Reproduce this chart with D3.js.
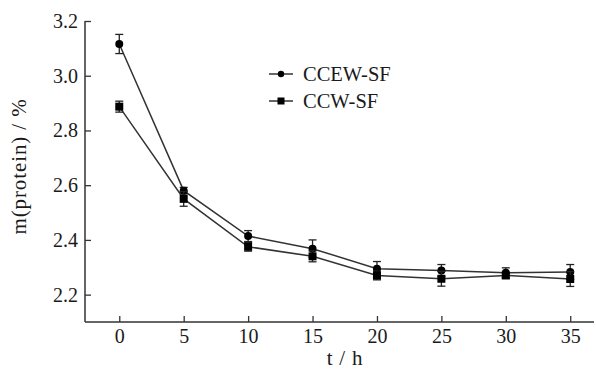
<!DOCTYPE html>
<html><head><meta charset="utf-8">
<script src="https://cdn.jsdelivr.net/npm/d3@7"></script>
<style>body{margin:0;background:#fff}svg{display:block}</style>
</head><body>
<script>
const times = [0, 5, 10, 15, 20, 25, 30, 35];
const ccewMean = [3.116, 2.580, 2.414, 2.368, 2.295, 2.288, 2.280, 2.283];
const ccewErr  = [0.035, 0.012, 0.020, 0.032, 0.026, 0.022, 0.018, 0.027];
const ccwMean  = [2.887, 2.550, 2.375, 2.340, 2.270, 2.258, 2.270, 2.257];
const ccwErr   = [0.020, 0.027, 0.016, 0.020, 0.016, 0.027, 0.010, 0.027];
const xTicks = [0, 5, 10, 15, 20, 25, 30, 35];
const yTicks = [2.2, 2.4, 2.6, 2.8, 3.0, 3.2];
const seriesNames = ["CCEW-SF", "CCW-SF"];

const W = 596, H = 370;
const svg = d3.select("body").append("svg").attr("width", W).attr("height", H);
const x = d3.scaleLinear().domain([-2.66, 37]).range([85, 596]);
const y = d3.scaleLinear().domain([2.1, 3.2]).range([322, 21]);
const font = "'Liberation Serif','Times New Roman',Times,serif";
const fs = 20;
const ink = "#1a1a1a";

// axes
const gx = svg.append("g").attr("transform", "translate(0,322)")
  .call(d3.axisBottom(x).tickValues(xTicks).tickSize(-6).tickPadding(7).tickFormat(d3.format("d")));
const gy = svg.append("g").attr("transform", "translate(85,0)")
  .call(d3.axisLeft(y).tickValues(yTicks).tickSize(-6).tickPadding(7).tickFormat(d3.format(".1f")));
[gx, gy].forEach(g => {
  g.select(".domain").attr("stroke", "#333").attr("stroke-width", 1.5);
  g.selectAll(".tick line").attr("stroke", "#333").attr("stroke-width", 1.3);
  g.selectAll("text").attr("font-family", font).attr("font-size", fs).attr("fill", ink);
});
gx.select(".domain").attr("d", "M85,0H594");
gy.select(".domain").attr("d", "M0,21V322");

// axis titles
svg.append("text").attr("x", 345).attr("y", 365).attr("text-anchor", "middle")
  .attr("font-family", font).attr("font-size", 21).attr("letter-spacing", 0.8)
  .attr("fill", ink).text("t / h");
svg.append("text").attr("transform", "translate(25.5,166.5) rotate(-90)").attr("text-anchor", "middle")
  .attr("font-family", font).attr("font-size", 21).attr("letter-spacing", 0.9)
  .attr("fill", ink).text("m(protein) / %");

const line = d3.line().x(d => x(d.t)).y(d => y(d.v));
const series = [
  {name: seriesNames[0], mean: ccewMean, err: ccewErr, shape: "circle"},
  {name: seriesNames[1], mean: ccwMean, err: ccwErr, shape: "square"}
];
series.forEach(s => {
  const pts = times.map((t, i) => ({t, v: s.mean[i], e: s.err[i]}));
  svg.append("path").datum(pts).attr("d", line).attr("fill", "none")
    .attr("stroke", "#333").attr("stroke-width", 1.5);
  const eb = svg.append("g").attr("stroke", "#222").attr("stroke-width", 1.3);
  pts.forEach(p => {
    const cx = x(p.t), y0 = y(p.v - p.e), y1 = y(p.v + p.e);
    eb.append("line").attr("x1", cx).attr("x2", cx).attr("y1", y0).attr("y2", y1);
    eb.append("line").attr("x1", cx - 4).attr("x2", cx + 4).attr("y1", y0).attr("y2", y0);
    eb.append("line").attr("x1", cx - 4).attr("x2", cx + 4).attr("y1", y1).attr("y2", y1);
  });
  pts.forEach(p => {
    if (s.shape === "circle")
      svg.append("circle").attr("cx", x(p.t)).attr("cy", y(p.v)).attr("r", 4).attr("fill", "#000");
    else
      svg.append("rect").attr("x", x(p.t) - 4).attr("y", y(p.v) - 4).attr("width", 8).attr("height", 8).attr("fill", "#000");
  });
});

// legend
series.forEach((s, i) => {
  const ly = 74 + i * 27;
  svg.append("line").attr("x1", 269).attr("x2", 293).attr("y1", ly).attr("y2", ly)
    .attr("stroke", "#333").attr("stroke-width", 1.5);
  if (s.shape === "circle")
    svg.append("circle").attr("cx", 281).attr("cy", ly).attr("r", 3.2).attr("fill", "#000");
  else
    svg.append("rect").attr("x", 277.5).attr("y", ly - 3.5).attr("width", 7).attr("height", 7).attr("fill", "#000");
  svg.append("text").attr("x", 303).attr("y", ly + 7).attr("font-family", font)
    .attr("font-size", 20.5).attr("fill", ink).text(s.name);
});
</script>
</body></html>
